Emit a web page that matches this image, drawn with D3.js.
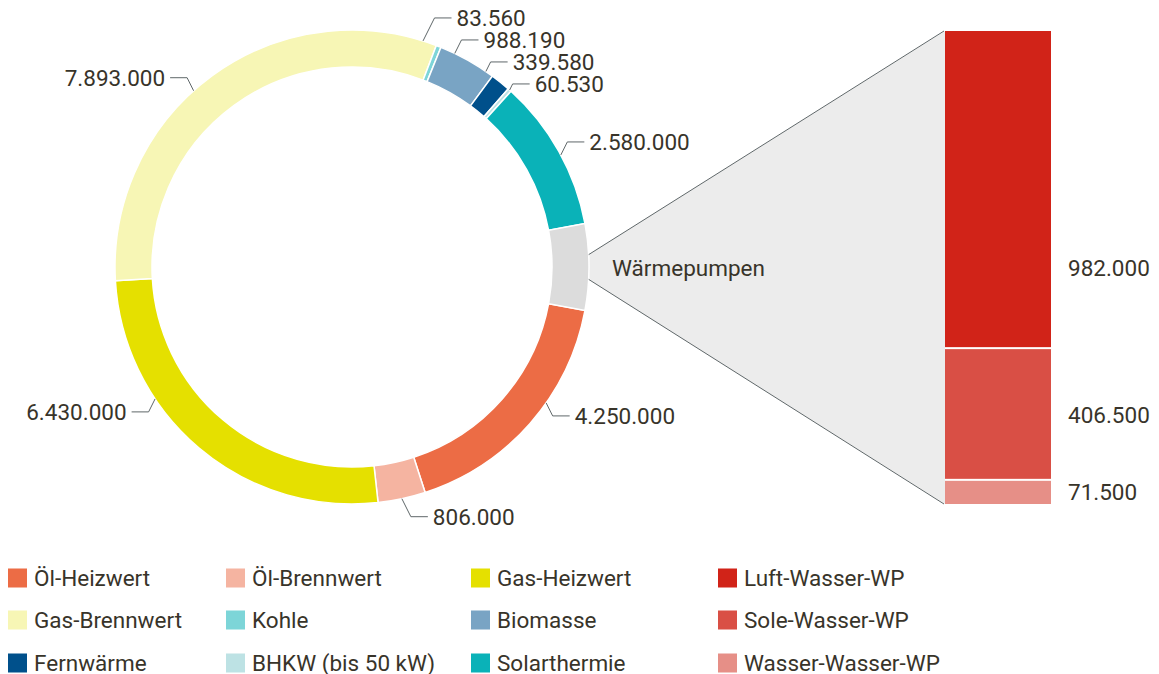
<!DOCTYPE html>
<html><head><meta charset="utf-8">
<script src="https://cdn.jsdelivr.net/npm/d3@7"></script>
<style>
body{margin:0;background:#fff;}
text{font-family:Roboto,"Noto Sans",sans-serif;fill:#38342a;}
</style>
</head><body>
<svg id="chart" width="1159" height="674"></svg>
<script>
// ---- data ----
const categories = ["Öl-Heizwert","Öl-Brennwert","Gas-Heizwert","Gas-Brennwert","Kohle","Biomasse","Fernwärme","BHKW (bis 50 kW)","Solarthermie"];
const values = [4250000,806000,6430000,7893000,83560,988190,339580,60530,2580000];
const groupLabel = "Wärmepumpen";
const wpCategories = ["Luft-Wasser-WP","Sole-Wasser-WP","Wasser-Wasser-WP"];
const wpValues = [982000,406500,71500];

// ---- styles / layout ----
const colors = ["#ec6c45","#f5b4a1","#e5e000","#f7f6b5","#7dd5d8","#79a4c4","#00508b","#bde2e4","#0ab2b8"];
const groupColor = "#dcdcdc";
const wpColors = ["#d12318","#d94f45","#e68f87"];
const anchorShiftDeg = [-6.3,0,16,-5.7,-4,-3.5,-4.4,0,1];
const labelDrop = [13,18,13,13,13,13,13,13,13];
const wpLabelFrac = [0.745,0.5,0.5];

const W=1159,H=674;
const cx=352, cy=267, outerR=237, innerR=200;
const fontSize=22.5;
const svg=d3.select("#chart");
const loc=d3.formatLocale({decimal:",",thousands:".",grouping:[3],currency:["","€"]});
const fmt=loc.format(",d");

const wpTotal=d3.sum(wpValues);
const ringData=categories.map((c,i)=>({name:c,value:values[i],color:colors[i],shift:anchorShiftDeg[i],drop:labelDrop[i]}));
ringData.push({name:groupLabel,value:wpTotal,color:groupColor,group:true});
const total=d3.sum(ringData,d=>d.value);
const wpAngle=2*Math.PI*wpTotal/total;
const start=Math.PI/2+wpAngle/2;
const pie=d3.pie().sort(null).value(d=>d.value).startAngle(start).endAngle(start+2*Math.PI);
const arcs=pie(ringData);
const arc=d3.arc().innerRadius(innerR).outerRadius(outerR);

const g=svg.append("g").attr("transform",`translate(${cx},${cy})`);

// bar scale
const barX=945, barW=106;
const y=d3.scaleLinear().domain([0,wpTotal]).range([31,504]);

// connector polygon from group slice to bar
const ga=arcs[arcs.length-1];
const gm=(ga.startAngle+ga.endAngle)/2;
const spread=3*Math.PI/180;
const p1=[cx+outerR*Math.sin(gm-spread), cy-outerR*Math.cos(gm-spread)];
const p2=[cx+outerR*Math.sin(gm+spread), cy-outerR*Math.cos(gm+spread)];
svg.insert("path",":first-child")
  .attr("d",`M${p1[0]},${p1[1]}L${barX},${y(0)}L${barX},${y(wpTotal)}L${p2[0]},${p2[1]}Z`)
  .attr("fill","#ececec");
svg.append("path").attr("d",`M${p1[0]},${p1[1]}L${barX-1},${y(0)}`).attr("stroke","#5f6769").attr("fill","none").attr("stroke-width",1);
svg.append("path").attr("d",`M${p2[0]},${p2[1]}L${barX-1},${y(wpTotal)}`).attr("stroke","#5f6769").attr("fill","none").attr("stroke-width",1);

// ring
g.selectAll("path.slice").data(arcs).join("path").attr("class","slice")
  .attr("d",arc).attr("fill",d=>d.data.color).attr("stroke","#fff").attr("stroke-width",1.5);

// group label
svg.append("text").attr("x",612).attr("y",cy+1).attr("dy","0.35em").attr("font-size",fontSize).text(groupLabel);

// data labels with leader lines
const labels=arcs.filter(d=>!d.data.group).map(d=>{
  const a=(d.startAngle+d.endAngle)/2+d.data.shift*Math.PI/180;
  const tx=cx+outerR*Math.sin(a), ty=cy-outerR*Math.cos(a);
  const up=Math.cos(a)>0;
  const side=Math.sin(a)>=0?1:-1;
  return {d,a,tx,ty,side,ny:ty+(up?-d.data.drop:d.data.drop)};
});
function resolve(list){
  list.sort((a,b)=>a.ny-b.ny);
  let clusters=list.map(l=>({items:[l],mean:l.ny}));
  const sp=22;
  let changed=true;
  while(changed){
    changed=false;
    for(let i=0;i<clusters.length-1;i++){
      const A=clusters[i],B=clusters[i+1];
      const aBottom=A.mean+(A.items.length-1)*sp/2;
      const bTop=B.mean-(B.items.length-1)*sp/2;
      if(bTop-aBottom<sp){
        const items=A.items.concat(B.items);
        const mean=d3.mean(items,l=>l.ny);
        clusters.splice(i,2,{items,mean});
        changed=true;break;
      }
    }
  }
  clusters.forEach(c=>c.items.forEach((l,k)=>{l.ly=c.mean+(k-(c.items.length-1)/2)*sp;}));
}
resolve(labels.filter(l=>l.side>0));
resolve(labels.filter(l=>l.side<0));
labels.forEach(l=>{
  const ex=l.tx+l.side*Math.max(3,0.5*Math.abs(l.ly-l.ty));
  const hx=ex+l.side*17;
  svg.append("path").attr("d",`M${l.tx},${l.ty}L${ex},${l.ly}L${hx},${l.ly}`)
    .attr("fill","none").attr("stroke","#5f6769").attr("stroke-width",1);
  svg.append("text").attr("x",hx+l.side*5).attr("y",l.ly).attr("dy","0.35em")
    .attr("text-anchor",l.side>0?"start":"end").attr("font-size",fontSize).text(fmt(l.d.data.value));
});

// stacked bar
let cum=0;
const segs=wpValues.map((v,i)=>{const s={v,i,y0:cum,y1:cum+v};cum+=v;return s;});
svg.selectAll("rect.seg").data(segs).join("rect").attr("class","seg")
  .attr("x",barX).attr("width",barW)
  .attr("y",d=>y(d.y0))
  .attr("height",d=>y(d.y1)-y(d.y0)-(d.i<segs.length-1?2:0))
  .attr("fill",d=>wpColors[d.i]);
svg.selectAll("text.seglab").data(segs).join("text").attr("class","seglab")
  .attr("x",1068).attr("y",d=>y(d.y0)+(y(d.y1)-y(d.y0))*wpLabelFrac[d.i]).attr("dy","0.35em")
  .attr("font-size",fontSize).text(d=>fmt(d.v));

// legend
const legendCols=[8,226,471,718], legendRows=[578,620,663];
const legendItems=[];
categories.forEach((c,i)=>legendItems.push({name:c,color:colors[i],col:i%3,row:Math.floor(i/3)}));
wpCategories.forEach((c,i)=>legendItems.push({name:c,color:wpColors[i],col:3,row:i}));
const lg=svg.selectAll("g.leg").data(legendItems).join("g").attr("class","leg")
  .attr("transform",d=>`translate(${legendCols[d.col]},${legendRows[d.row]})`);
lg.append("rect").attr("x",0).attr("y",-9.5).attr("width",19).attr("height",19).attr("fill",d=>d.color);
lg.append("text").attr("x",26).attr("y",0).attr("dy","0.35em").attr("font-size",fontSize).text(d=>d.name);
</script>
</body></html>
